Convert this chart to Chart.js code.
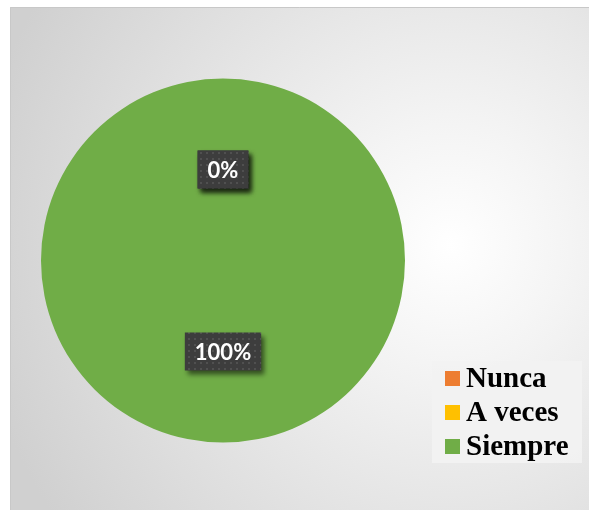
<!DOCTYPE html>
<html>
<head>
<meta charset="utf-8">
<script src="https://cdn.jsdelivr.net/npm/chart.js@4"></script>
<style>
  html, body { margin: 0; padding: 0; background: #ffffff; }
  #wrap { width: 589px; height: 510px; }
</style>
</head>
<body>
<div id="wrap"><canvas id="myPieChart" width="589" height="510"></canvas></div>
<script>
// Datos
var categorias = ["Nunca", "A veces", "Siempre"];
var valores = [0, 0, 100];
var colores = ["#ED7D31", "#FFC000", "#70AD47"];

// fondo del panel con degradado radial
const fondoPanel = {
  id: 'fondoPanel',
  beforeDraw(chart) {
    const ctx = chart.ctx;
    ctx.save();
    ctx.fillStyle = '#ffffff';
    ctx.fillRect(0, 0, chart.width, chart.height);
    var g = ctx.createRadialGradient(450, 245, 0, 450, 245, 480);
    g.addColorStop(0, '#ffffff');
    g.addColorStop(0.25, '#f4f4f4');
    g.addColorStop(1, '#d0d0d0');
    ctx.fillStyle = g;
    ctx.fillRect(10, 7, chart.width - 10, chart.height - 7);
    ctx.strokeStyle = '#c8c8c8';
    ctx.lineWidth = 1;
    ctx.beginPath();
    ctx.moveTo(10.5, chart.height);
    ctx.lineTo(10.5, 7.5);
    ctx.lineTo(chart.width, 7.5);
    ctx.stroke();
    ctx.restore();
  }
};

// patron punteado para las etiquetas
function patronOscuro(ctx) {
  var c = document.createElement('canvas');
  c.width = 6; c.height = 6;
  var p = c.getContext('2d');
  p.fillStyle = '#3d3d3d';
  p.fillRect(0, 0, 6, 6);
  p.fillStyle = '#505050';
  p.fillRect(2, 2, 2, 2);
  return ctx.createPattern(c, 'repeat');
}

// etiquetas de porcentaje
const etiquetas = {
  id: 'etiquetas',
  afterDatasetsDraw(chart) {
    const ctx = chart.ctx;
    const meta = chart.getDatasetMeta(0);
    const data = chart.data.datasets[0].data;
    const total = data.reduce((a, b) => a + b, 0);
    ctx.save();
    ctx.font = 'bold 22px Lato';
    ctx.textAlign = 'center';
    ctx.textBaseline = 'middle';
    meta.data.forEach((arc, i) => {
      const pos = arc.tooltipPosition();
      const txt = Math.round(data[i] / total * 100) + '%';
      const w = ctx.measureText(txt).width + 20;
      const h = 38;
      const x = pos.x - w / 2;
      const y = pos.y - h / 2;
      ctx.save();
      ctx.shadowColor = 'rgba(0,0,0,0.55)';
      ctx.shadowOffsetX = 3;
      ctx.shadowOffsetY = 4;
      ctx.shadowBlur = 5;
      ctx.fillStyle = patronOscuro(ctx);
      ctx.fillRect(x, y, w, h);
      ctx.restore();
      ctx.fillStyle = '#ffffff';
      ctx.fillText(txt, pos.x, pos.y + 1);
    });
    ctx.restore();
  }
};

// leyenda propia abajo a la derecha
const leyenda = {
  id: 'leyenda',
  afterDraw(chart) {
    const ctx = chart.ctx;
    ctx.save();
    ctx.fillStyle = 'rgba(242,242,242,0.92)';
    ctx.fillRect(432, 361, 150, 102);
    ctx.font = 'bold 29px "Liberation Serif"';
    ctx.textAlign = 'left';
    ctx.textBaseline = 'alphabetic';
    chart.data.labels.forEach((lab, i) => {
      const y = 371 + i * 34;
      ctx.fillStyle = chart.data.datasets[0].backgroundColor[i];
      ctx.fillRect(445, y, 15, 15);
      ctx.fillStyle = '#000000';
      ctx.fillText(lab, 466, y + 16);
    });
    ctx.restore();
  }
};

var ctx = document.getElementById('myPieChart');
var myPieChart = new Chart(ctx, {
  type: 'pie',
  data: {
    labels: categorias,
    datasets: [{
      data: valores,
      backgroundColor: colores,
      borderWidth: 0
    }]
  },
  options: {
    responsive: false,
    animation: { duration: 0 },
    layout: {
      padding: { left: 41, top: 78, right: 184, bottom: 67 }
    },
    plugins: {
      legend: { display: false },
      tooltip: { enabled: false }
    }
  },
  plugins: [fondoPanel, etiquetas, leyenda]
});
</script>
</body>
</html>
